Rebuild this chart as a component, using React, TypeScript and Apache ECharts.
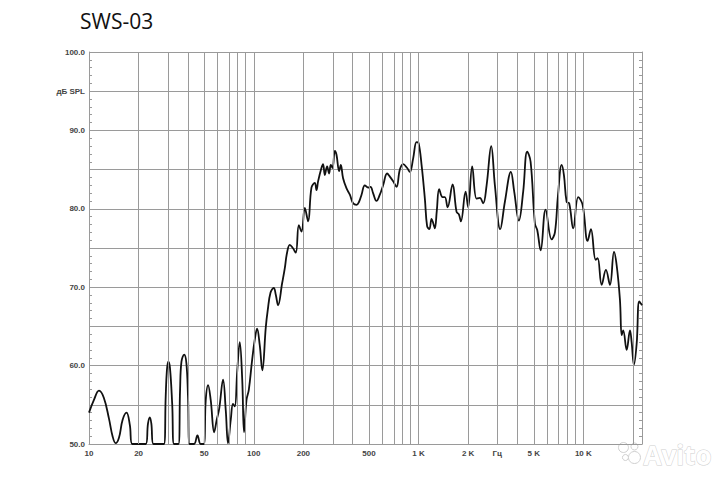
import React, { useEffect, useRef } from "react";
import * as echarts from "echarts";

const TITLE = "SWS-03";

// Frequency (Hz) and SPL (dB)
const FREQ = [
  10, 10.7, 11.5, 12.3, 13.2, 13.9, 14.5, 15.2, 16.0, 16.9, 17.7, 18.3,
  22.1, 22.8, 23.4, 23.9, 24.6,
  28.5, 29.2, 29.7, 30.3, 31.0, 32.0, 32.8,
  34.9, 35.7, 36.4, 37.8, 39.0, 39.9, 40.8,
  43.4, 45.5, 47.6, 49.7, 51.1, 52.8,
  54.8, 57.5, 59.6, 61.7, 65.1, 67.6, 69.8, 72.5, 74.8, 76.7, 79.4, 82.2, 85.1, 87.3, 90.3, 93.3,
  97.7, 101.4, 104.7, 108.7, 112.7, 118.3, 121.6, 126.3, 132.2, 136.1, 140.4, 148.6, 154.2, 159.2,
  165.4, 172.5, 179.9, 187.6, 194.9, 204.1, 213.7, 223.9, 234.5, 240.3, 245.6, 257.4, 263.4, 269.8,
  278.6, 286.4, 293.4, 300.6, 310.5, 317.7, 329.6, 337.3, 348.3, 365.6, 382.8, 400.9, 420.3, 435.5,
  450.8, 472, 494.3, 510.9, 529.7, 555.6, 582.1, 609.5, 644.2, 669.5, 701.2, 734.8, 770, 806.4, 853,
  885, 927, 972, 1000, 1043, 1092, 1127, 1163, 1199, 1230, 1256, 1291, 1334, 1399, 1444, 1500, 1609,
  1701, 1757, 1807, 1930, 2000, 2116, 2249, 2355, 2466, 2588, 2760, 2906, 3131, 3342, 3633, 3806,
  4064, 4315, 4564, 4786, 5083, 5250, 5508, 5902, 6421, 6724, 7015, 7387, 7625, 7917, 8204, 8686,
  9311, 9900, 10620, 11120, 11877, 12216, 12920, 13710, 14507, 15350, 15930, 16680, 17090, 17460,
  18320, 19190, 19640, 20280, 21070, 21850, 22700,
];
const SPL = [
  54.0, 55.6, 56.8, 55.9, 53.3, 51.0, 50.1, 50.8, 53.1, 54.0, 52.4, 50.0,
  50.0, 52.6, 53.4, 52.6, 50.0,
  50.0, 56.0, 59.4, 60.5, 59.7, 55.0, 50.0,
  50.0, 56.9, 60.5, 61.4, 60.3, 56.0, 50.0,
  50.0, 51.1, 50.0, 50.0, 55.6, 57.5,
  55.6, 51.5, 53.1, 54.5, 58.2, 54.3, 50.1, 53.1, 55.1, 54.8, 59.4, 63.0, 58.2, 51.5, 55.6, 56.9,
  60.7, 63.3, 64.7, 62.6, 59.4, 64.9, 67.1, 69.3, 69.9, 69.0, 67.7, 70.5, 72.4, 74.4,
  75.4, 75.0, 74.4, 77.9, 77.1, 80.1, 78.4, 82.7, 83.3, 82.4, 83.5, 85.2, 85.7, 84.3,
  85.4, 84.5, 85.6, 85.2, 87.4, 86.9, 84.8, 85.6, 83.9, 82.6, 81.8, 80.7, 80.5, 80.9,
  81.8, 83.0, 82.7, 82.8, 82.0, 81.0, 81.8, 83.0, 84.5, 84.1, 83.5, 82.8, 85.0, 85.7, 85.2,
  84.7, 86.4, 88.5, 88.4, 85.6, 81.3, 77.8, 77.4, 78.7, 78.1, 77.5, 79.8, 82.5, 81.5, 81.5, 80.2, 83.1,
  79.6, 79.3, 78.4, 82.2, 80.2, 85.4, 81.3, 81.4, 80.7, 83.0, 88.0, 83.0, 77.4, 80.9, 84.7, 82.2,
  78.5, 82.2, 87.3, 86.0, 78.1, 77.3, 74.7, 79.9, 76.1, 77.0, 81.7, 85.6, 84.3, 80.9, 80.7, 77.5,
  81.5, 80.5, 75.9, 77.4, 73.5, 73.7, 70.3, 72.2, 70.3, 74.5, 72.8, 68.4, 63.9, 64.5,
  62.0, 64.5, 63.0, 60.1, 62.8, 68.2, 67.7,
];

// Vertical grid lines (Hz)
const GRID_FREQ = [
  20, 30, 40, 50, 60, 70, 80, 90, 100, 200, 300, 400, 500, 600, 700, 800, 900, 1000,
  2000, 3000, 4000, 5000, 6000, 7000, 8000, 9000, 10000, 20000,
];
// X tick labels
const X_LABEL_FREQ = [10, 20, 50, 100, 200, 500, 1000, 2000, 3000, 5000, 10000];
const X_LABELS = ["10", "20", "50", "100", "200", "500", "1 K", "2 K", "Гц", "5 K", "10 K"];
const X_MIN = 10;
const X_MAX = 22700;

const Y_MIN = 50;
const Y_MAX = 100;
const Y_UNIT_VALUE = 95;
const Y_UNIT = "дБ SPL";

export default function App() {
  const ref = useRef<HTMLDivElement>(null);
  useEffect(() => {
    if (!ref.current) return;
    const chart = echarts.init(ref.current, undefined, { renderer: "svg" });
    const gridColor = "#9a9a9a";
    const labelStyle = {
      fontFamily: "Liberation Sans, Arial, sans-serif",
      fontSize: 8,
      fontWeight: "bold" as const,
      color: "#444",
    };
    const yAxisCommon = {
      type: "value" as const,
      min: Y_MIN,
      max: Y_MAX,
      interval: 5,
      axisLine: { show: true, lineStyle: { color: gridColor, width: 1 } },
      axisTick: { show: true, inside: true, length: 4, lineStyle: { color: gridColor } },
      minorTick: { show: true, splitNumber: 5, length: 3, lineStyle: { color: gridColor } },
    };
    chart.setOption({
      animation: false,
      backgroundColor: "#ffffff",
      grid: { left: 89, right: 78, top: 52, bottom: 36, containLabel: false },
      graphic: [
        {
          type: "text",
          left: 80,
          top: 10,
          style: {
            text: TITLE,
            fontFamily: "Open Sans, sans-serif",
            fontSize: 21,
            fill: "#111",
          },
        },
        {
          type: "group",
          right: 8,
          bottom: 12,
          children: [
            { type: "circle", shape: { cx: 6, cy: 6, r: 5 }, style: { fill: "#fff", stroke: "#d0d0d0", lineWidth: 1 } },
            { type: "circle", shape: { cx: 17, cy: 5, r: 3.5 }, style: { fill: "#fff", stroke: "#d0d0d0", lineWidth: 1 } },
            { type: "circle", shape: { cx: 8, cy: 16, r: 3 }, style: { fill: "#fff", stroke: "#d0d0d0", lineWidth: 1 } },
            { type: "circle", shape: { cx: 17, cy: 16, r: 6 }, style: { fill: "#fff", stroke: "#d0d0d0", lineWidth: 1 } },
            {
              type: "text",
              x: 26,
              y: 0,
              style: {
                text: "Avito",
                fontFamily: "Open Sans, sans-serif",
                fontSize: 26,
                fontWeight: "bold",
                fill: "#fff",
                stroke: "#cfcfcf",
                lineWidth: 1,
              },
            },
          ],
        },
      ],
      xAxis: {
        type: "value",
        min: Math.log10(X_MIN),
        max: Math.log10(X_MAX),
        axisLine: { show: true, lineStyle: { color: gridColor, width: 1 } },
        axisTick: { show: false },
        splitLine: { show: false },
        axisLabel: {
          ...labelStyle,
          margin: 5,
          customValues: X_LABEL_FREQ.map((f) => Math.log10(f)),
          formatter: (v: number) => {
            const i = X_LABEL_FREQ.findIndex((f) => Math.abs(Math.log10(f) - v) < 1e-6);
            return i >= 0 ? X_LABELS[i] : "";
          },
        },
      },
      yAxis: [
        {
          ...yAxisCommon,
          position: "left",
          splitLine: { show: true, lineStyle: { color: gridColor, width: 1 } },
          axisLabel: {
            ...labelStyle,
            margin: 4,
            formatter: (v: number) =>
              v === Y_UNIT_VALUE ? Y_UNIT : v % 10 === 0 ? v.toFixed(1) : "",
          },
        },
        {
          ...yAxisCommon,
          position: "right",
          splitLine: { show: false },
          axisLabel: { show: false },
        },
      ],
      series: [
        {
          type: "line",
          data: [],
          z: 1,
          silent: true,
          markLine: {
            silent: true,
            symbol: ["none", "none"],
            label: { show: false },
            emphasis: { disabled: true },
            lineStyle: { color: gridColor, width: 1, type: "solid" },
            data: GRID_FREQ.map((f) => ({ xAxis: Math.log10(f) })),
          },
        },
        {
          type: "line",
          z: 3,
          data: FREQ.map((f, i) => [Math.log10(f), SPL[i]]),
          smooth: 0.4,
          showSymbol: false,
          clip: true,
          lineStyle: { color: "#111", width: 1.8 },
          emphasis: { disabled: true },
        },
      ],
    });
    return () => chart.dispose();
  }, []);
  return (
    <div
      ref={ref}
      style={{ position: "fixed", left: 0, top: 0, width: 720, height: 480, background: "#fff" }}
    />
  );
}
